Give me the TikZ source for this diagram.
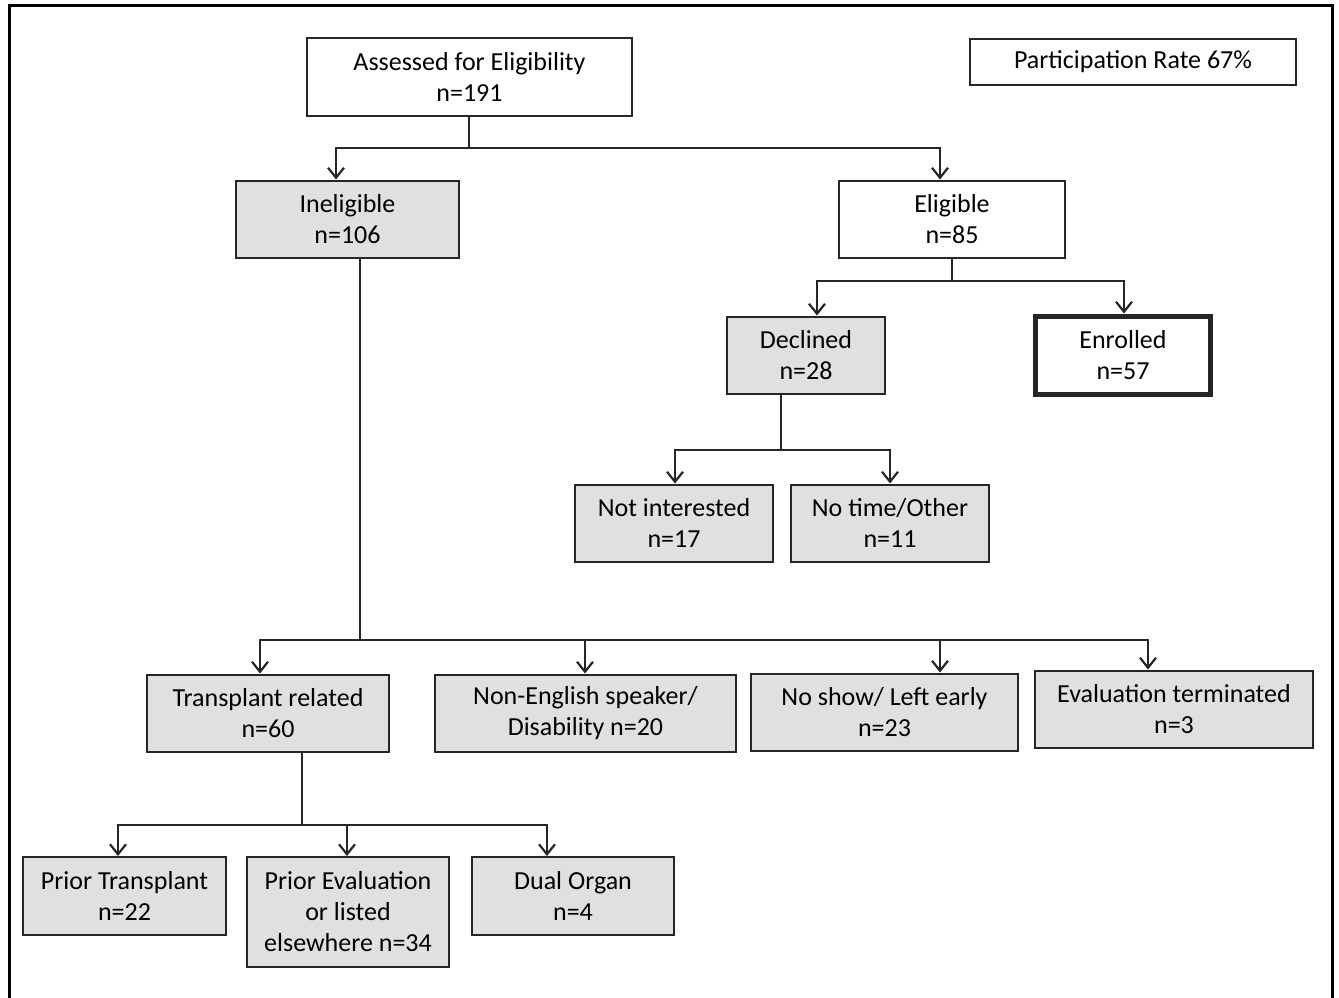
\documentclass[tikz,border=0pt]{standalone}
\usepackage{fontspec}
\setmainfont{Carlito}
\usetikzlibrary{arrows.meta}
\begin{document}
\begin{tikzpicture}[x=1pt,y=-1pt,
  box/.style={draw=black!85, line width=2pt, fill=white, inner sep=0pt, align=center,
    font=\fontsize{26}{31}\selectfont, text=black},
  gbox/.style={box, fill=black!12},
  conn/.style={draw=black!85, line width=2.2pt},
  arr/.style={conn, -{Straight Barb[length=10pt,width=16pt,line width=2.2pt]}}]
\useasboundingbox (0,0) rectangle (1339,998);
% frame
\draw[line width=3pt] (9,1010) -- (9,6) -- (1332,6) -- (1332,1010);
% nodes
\node[box, minimum width=325pt, minimum height=77pt] (assess) at (469.5,77) {Assessed for Eligibility\\n=191};
\node[box, minimum width=326pt, minimum height=46pt] (rate) at (1133,62) {Participation Rate 67\%};
\node[gbox, minimum width=223pt, minimum height=77pt] (inel) at (347.5,219) {Ineligible\\n=106};
\node[box, minimum width=226pt, minimum height=77pt] (elig) at (952,219) {Eligible\\n=85};
\node[gbox, minimum width=158pt, minimum height=77pt] (decl) at (806,355) {Declined\\n=28};
\node[box, line width=5pt, minimum width=175pt, minimum height=78pt] (enr) at (1123,355) {Enrolled\\n=57};
\node[gbox, minimum width=198pt, minimum height=77pt] (notint) at (674,523) {Not interested\\n=17};
\node[gbox, minimum width=198pt, minimum height=77pt] (notime) at (890,523) {No time/Other\\n=11};
\node[gbox, minimum width=242pt, minimum height=77pt] (trans) at (268,713) {Transplant related\\n=60};
\node[gbox, minimum width=301pt, minimum height=77pt] (noneng) at (585.5,713) {Non-English speaker/\\Disability n=20};
\node[gbox, minimum width=267pt, minimum height=77pt] (noshow) at (884.5,712) {No show/ Left early\\n=23};
\node[gbox, minimum width=278pt, minimum height=77pt] (evalt) at (1174,709) {Evaluation terminated\\n=3};
\node[gbox, minimum width=203pt, minimum height=78pt] (priort) at (124.5,896) {Prior Transplant\\n=22};
\node[gbox, minimum width=202pt, minimum height=110pt] (priore) at (348,912) {Prior Evaluation\\or listed\\elsewhere n=34};
\node[gbox, minimum width=202pt, minimum height=78pt] (dual) at (573,896) {Dual Organ\\n=4};
% junction coordinates
\coordinate (j1) at (469,148);
\coordinate (j2) at (952,281);
\coordinate (j3) at (781,450);
\coordinate (j4) at (360,640);
\coordinate (j5) at (302,825);
% connectors
\draw[conn] (assess.south -| j1) -- (j1);
\draw[arr] (j1) -| (inel.north -| 336,0);
\draw[arr] (j1) -| (elig.north -| 940,0);
\draw[conn] (elig.south -| j2) -- (j2);
\draw[arr] (j2) -| (decl.north -| 817,0);
\draw[arr] (j2) -| (enr.north -| 1124,0);
\draw[conn] (decl.south -| j3) -- (j3);
\draw[arr] (j3) -| (notint.north -| 675,0);
\draw[arr] (j3) -| (notime.north -| 890,0);
\draw[conn] (inel.south -| j4) -- (j4);
\draw[arr] (j4) -| (trans.north -| 260,0);
\draw[arr] (j4) -| (noneng.north -| 585,0);
\draw[arr] (j4) -| (noshow.north -| 940,0);
\draw[arr] (j4) -| (evalt.north -| 1148,0);
\draw[conn] (trans.south -| j5) -- (j5);
\draw[arr] (j5) -| (priort.north -| 118,0);
\draw[arr] (j5) -| (priore.north -| 347,0);
\draw[arr] (j5) -| (dual.north -| 547,0);
\end{tikzpicture}
\end{document}
